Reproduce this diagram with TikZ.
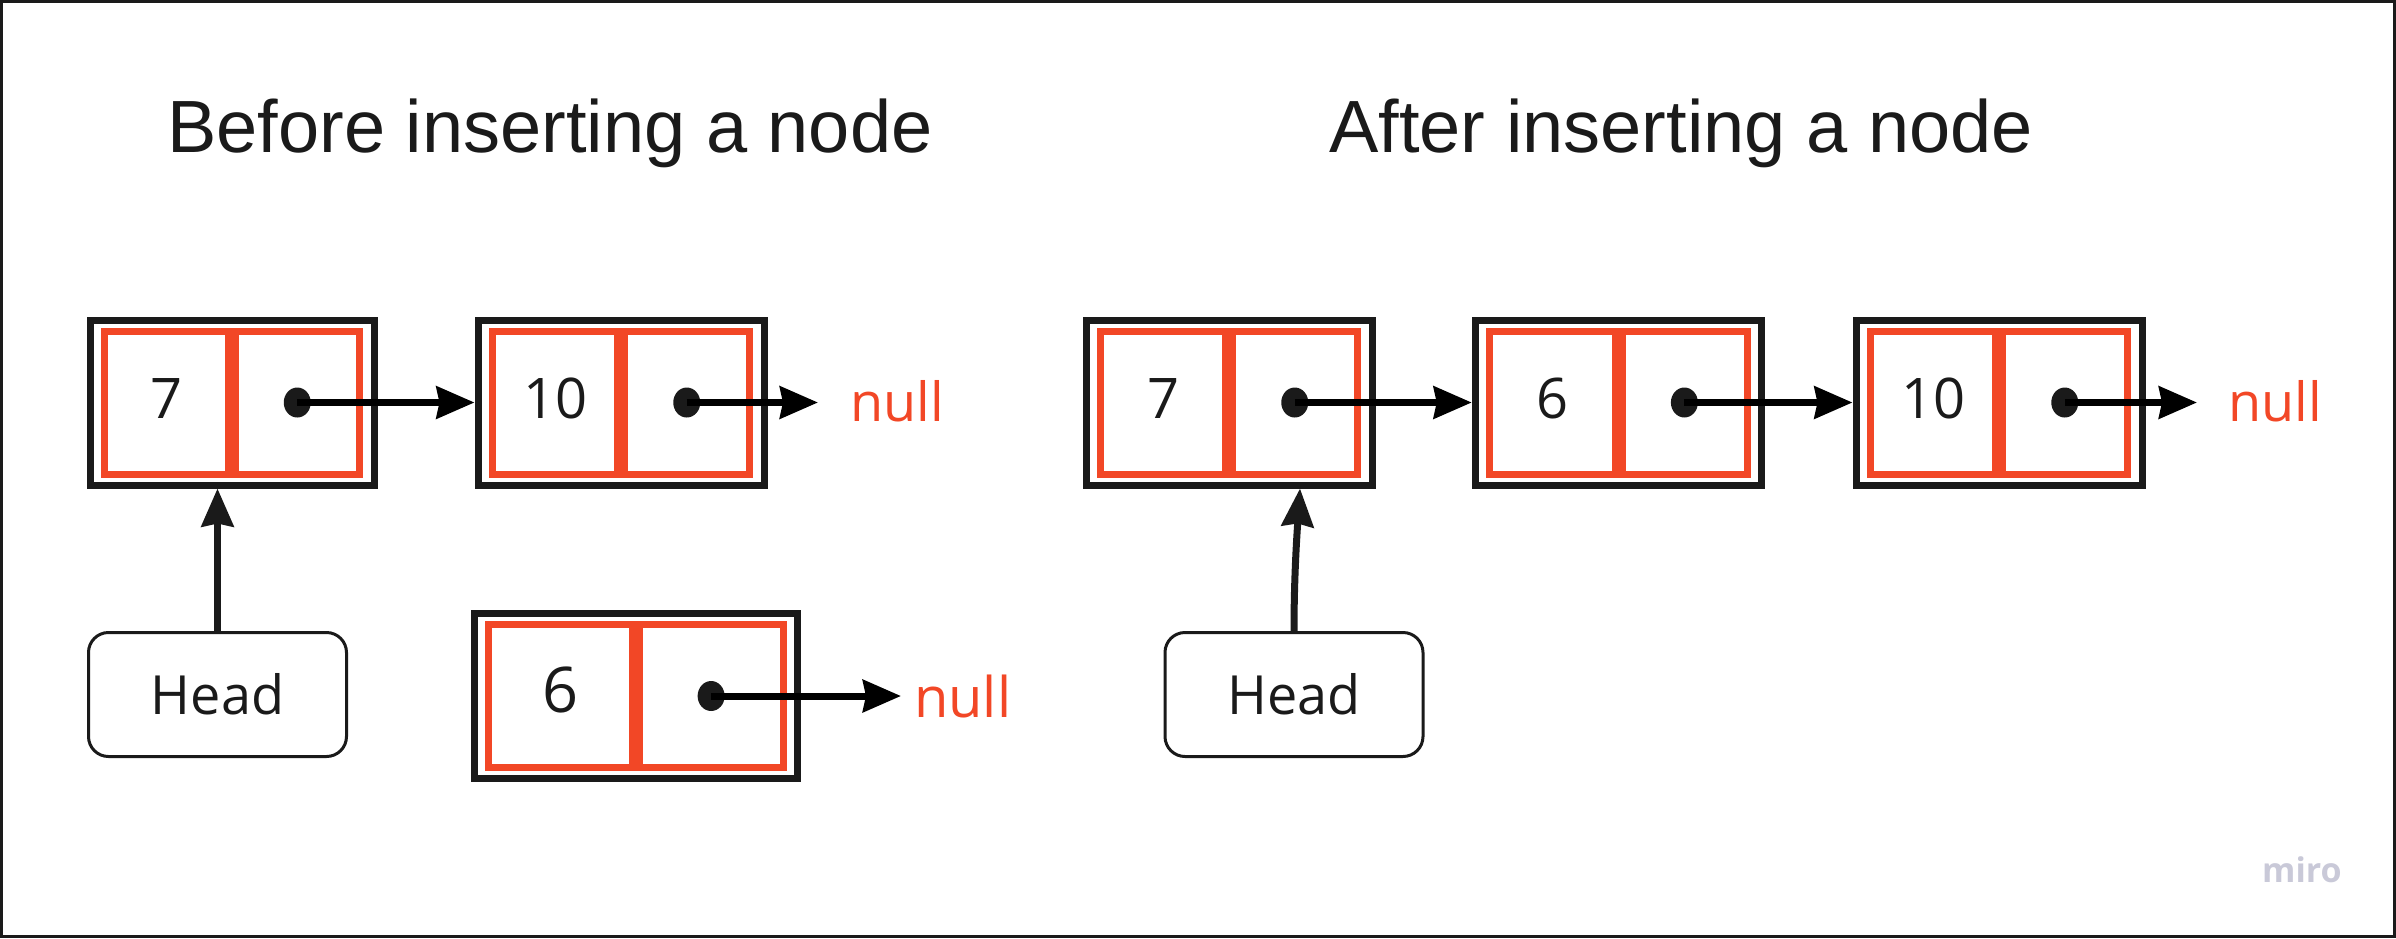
\documentclass[tikz,border=0pt]{standalone}
\usepackage{fontspec}
\setmainfont{Liberation Sans}
\newfontfamily\osans{Open Sans}
\usetikzlibrary{arrows.meta,shapes.geometric,calc}
\definecolor{ink}{HTML}{1A1A1A}
\definecolor{mred}{HTML}{F24726}
\definecolor{mirogray}{HTML}{C9C9D8}
\tikzset{
  outerbox/.style={draw=ink, line width=7pt, minimum height=165pt, inner sep=0pt, outer sep=3.5pt},
  redcell/.style={draw=mred, line width=7pt},
  valtext/.style={text=ink, inner sep=0pt},
  ptrdot/.style={ellipse, fill=ink, minimum width=27pt, minimum height=30pt, inner sep=0pt},
  ptr/.style={draw=black, line width=7pt, -{Stealth[length=38pt,width=32pt,inset=3pt]}},
  nulltext/.style={text=mred, inner sep=0pt, anchor=base west},
  headbox/.style={draw=ink, line width=3pt, rounded corners=20pt, minimum width=258pt, minimum height=124pt, inner sep=0pt, outer sep=1.5pt, text=ink, font=\osans\fontsize{54}{60}\selectfont},
  titletext/.style={font=\fontsize{74}{80}\selectfont, text=ink, inner sep=0pt, anchor=base},
}
\newcommand\LLnode[6]{%
  \node[outerbox, minimum width=#4pt] (#1) at (#2,#3) {};
  \pgfmathsetmacro\celldx{(3.5+#4/2-15)/2}
  \draw[redcell] ($(#1.north west)+(18,14.5)$) rectangle ($(#1.south)+(-3.5,-14.5)$);
  \draw[redcell] ($(#1.north)+(3.5,14.5)$) rectangle ($(#1.south east)+(-18,-14.5)$);
  \node[valtext, anchor=base, font=\osans\fontsize{#6}{#6}\selectfont] (#1-v) at ($(#1.center)+(-\celldx,16)$) {#5};
  \node[ptrdot] (#1-p) at ($(#1.center)+(\celldx,0)$) {};
}
\begin{document}
\begin{tikzpicture}[x=1pt,y=-1pt]
  \useasboundingbox (0,0) rectangle (2396,938);
  \draw[ink, line width=3pt] (1.5,1.5) rectangle (2394.5,936.5);

  % titles
  \node[titletext] (t1) at (550,152) {Before inserting a node};
  \node[titletext] (t2) at (1681,152) {After inserting a node};

  % before
  \LLnode{A}{232}{402.5}{284}{7}{56}
  \LLnode{B}{621}{402.5}{286}{10}{56}
  \LLnode{C}{636}{696}{323.5}{6}{63}
  \node[nulltext, font=\osans\fontsize{54}{60}\selectfont] (Bnull) at (850,421) {null};
  \node[nulltext, font=\osans\fontsize{56}{60}\selectfont] (Cnull) at (914,717) {null};
  \node[headbox] (head1) at (217.5,694.5) {Head};

  \draw[ptr] (A-p.center) -- (B.west);
  \draw[ptr, shorten >=32pt] (B-p.center) -- (B-p.center -| Bnull.west);
  \draw[ptr, shorten >=13pt] (C-p.center) -- (C-p.center -| Cnull.west);
  \draw[ptr, draw=ink] (head1.north) -- (head1.north |- A.south);

  % after
  \LLnode{N7}{1229}{402.5}{286}{7}{56}
  \LLnode{N6}{1618.5}{402.5}{286.5}{6}{56}
  \LLnode{N10}{1999}{402.5}{286}{10}{56}
  \node[nulltext, font=\osans\fontsize{54}{60}\selectfont] (N10null) at (2228,421) {null};
  \node[headbox] (head2) at (1294,694.5) {Head};

  \draw[ptr] (N7-p.center) -- (N6.west);
  \draw[ptr] (N6-p.center) -- (N10.west);
  \draw[ptr, shorten >=31pt] (N10-p.center) -- (N10-p.center -| N10null.west);
  \draw[ptr, draw=ink] (head2.north) .. controls +(0,-55) and +(-3,45) .. ([xshift=71pt]N7.south);

  % watermark
  \node[anchor=base west, inner sep=0pt, text=mirogray, font=\osans\bfseries\fontsize{34}{34}\selectfont] (miro) at (2262,882) {miro};
\end{tikzpicture}
\end{document}
